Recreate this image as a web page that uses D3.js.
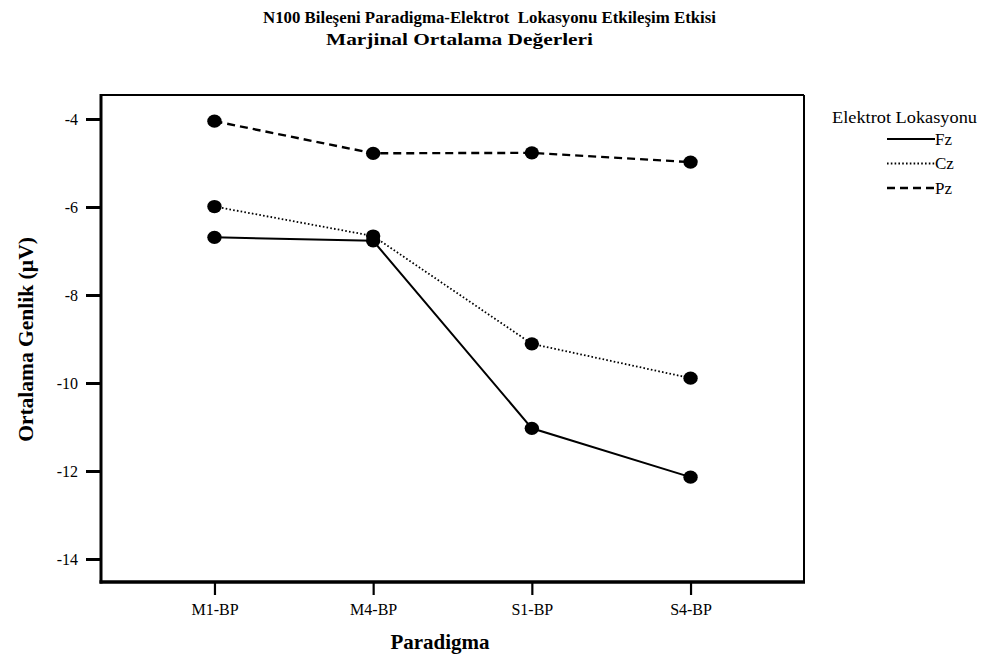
<!DOCTYPE html>
<html>
<head>
<meta charset="utf-8">
<script src="https://cdn.jsdelivr.net/npm/d3@7"></script>
<style>
  html, body { margin: 0; padding: 0; background: #fff; }
  svg { display: block; font-family: "Liberation Serif", "Times New Roman", serif; }
  .pre { white-space: pre; }
</style>
</head>
<body>
<svg id="chart" width="981" height="658"></svg>
<script>
// Paradigm conditions on the x axis
const paradigms = ["M1-BP", "M4-BP", "S1-BP", "S4-BP"];
// Marginal means (µV) per electrode location
const fzValues = [-6.69, -6.77, -11.03, -12.14];
const czValues = [-5.99, -6.66, -9.11, -9.89];
const pzValues = [-4.05, -4.78, -4.77, -4.98];
const seriesNames = ["Fz", "Cz", "Pz"];
const yTickValues = [-4, -6, -8, -10, -12, -14];

const titleLines = [
  "N100 Bileşeni Paradigma-Elektrot  Lokasyonu Etkileşim Etkisi",
  "Marjinal Ortalama Değerleri"
];

const series = [
  { name: seriesNames[0], values: fzValues, dash: null, width: 2 },
  { name: seriesNames[1], values: czValues, dash: "1.6,2.2", width: 1.8 },
  { name: seriesNames[2], values: pzValues, dash: "8,5", width: 2.4 }
];

const serif = "Liberation Serif, Times New Roman, serif";
const svg = d3.select("#chart");
const plot = { left: 101, right: 804, top: 95, bottom: 582 };

const x = d3.scalePoint()
  .domain(paradigms)
  .range([plot.left, plot.right])
  .padding(0.715);

const y = d3.scaleLinear()
  .domain([-14.523, -3.455])
  .range([plot.bottom, plot.top]);

// Title, two lines
svg.append("text")
  .attr("class", "pre")
  .attr("x", 263).attr("y", 23)
  .attr("font-size", 17.5).attr("font-weight", "bold")
  .attr("textLength", 453).attr("lengthAdjust", "spacingAndGlyphs")
  .text(titleLines[0]);
svg.append("text")
  .attr("x", 326).attr("y", 45)
  .attr("font-size", 17.5).attr("font-weight", "bold")
  .attr("textLength", 267).attr("lengthAdjust", "spacingAndGlyphs")
  .text(titleLines[1]);

// Frame: thin top/right, heavy left/bottom
svg.append("line")
  .attr("x1", plot.left).attr("x2", plot.right)
  .attr("y1", plot.top).attr("y2", plot.top)
  .attr("stroke", "#000").attr("stroke-width", 2);
svg.append("line")
  .attr("x1", plot.right).attr("x2", plot.right)
  .attr("y1", plot.top).attr("y2", plot.bottom)
  .attr("stroke", "#000").attr("stroke-width", 2);

// Y axis
const yAxis = svg.append("g")
  .attr("transform", `translate(${plot.left},0)`)
  .call(d3.axisLeft(y).tickValues(yTickValues).tickSize(15).tickPadding(8).tickFormat(d3.format("d")));
yAxis.select(".domain").remove();
yAxis.selectAll(".tick line").attr("stroke", "#000").attr("stroke-width", 3);
yAxis.selectAll(".tick text")
  .attr("font-family", serif)
  .attr("font-size", 16).attr("fill", "#000")
  .text(d => "-" + Math.abs(d));

// X axis
const xAxis = svg.append("g")
  .attr("transform", `translate(0,${plot.bottom})`)
  .call(d3.axisBottom(x).tickSize(13).tickPadding(9));
xAxis.select(".domain").remove();
xAxis.selectAll(".tick line").attr("stroke", "#000").attr("stroke-width", 2.2);
xAxis.selectAll(".tick text")
  .attr("font-family", serif)
  .attr("font-size", 16).attr("fill", "#000");

// Heavy axis lines
svg.append("line")
  .attr("x1", plot.left).attr("x2", plot.left)
  .attr("y1", plot.top - 1).attr("y2", plot.bottom + 1.5)
  .attr("stroke", "#000").attr("stroke-width", 3);
svg.append("line")
  .attr("x1", plot.left - 1.5).attr("x2", plot.right + 1)
  .attr("y1", plot.bottom).attr("y2", plot.bottom)
  .attr("stroke", "#000").attr("stroke-width", 3.5);

// Axis titles
svg.append("text")
  .attr("x", 440).attr("y", 649)
  .attr("text-anchor", "middle")
  .attr("font-size", 21).attr("font-weight", "bold")
  .text("Paradigma");
svg.append("text")
  .attr("transform", `translate(33,${(plot.top + plot.bottom) / 2 + 1}) rotate(-90)`)
  .attr("text-anchor", "middle")
  .attr("font-size", 21.5).attr("font-weight", "bold")
  .text("Ortalama Genlik (µV)");

// Lines and markers
const line = d3.line()
  .x((d, i) => x(paradigms[i]))
  .y(d => y(d));

series.forEach(s => {
  svg.append("path")
    .datum(s.values)
    .attr("d", line)
    .attr("fill", "none")
    .attr("stroke", "#000")
    .attr("stroke-width", s.width)
    .attr("stroke-dasharray", s.dash);
});
series.forEach(s => {
  svg.append("g").selectAll("ellipse")
    .data(s.values)
    .join("ellipse")
    .attr("cx", (d, i) => x(paradigms[i]))
    .attr("cy", d => y(d))
    .attr("rx", 7.2).attr("ry", 6.6)
    .attr("fill", "#000");
});

// Legend
const legend = svg.append("g");
legend.append("text")
  .attr("x", 832).attr("y", 123)
  .attr("font-size", 16)
  .attr("textLength", 145).attr("lengthAdjust", "spacingAndGlyphs")
  .text("Elektrot Lokasyonu");
series.forEach((s, i) => {
  const ly = 139 + i * 24.5;
  legend.append("line")
    .attr("x1", 887).attr("x2", 935)
    .attr("y1", ly).attr("y2", ly)
    .attr("stroke", "#000")
    .attr("stroke-width", s.width)
    .attr("stroke-dasharray", s.dash);
  legend.append("text")
    .attr("x", 935).attr("y", ly + 5.5)
    .attr("font-size", 17)
    .text(s.name);
});
</script>
</body>
</html>
